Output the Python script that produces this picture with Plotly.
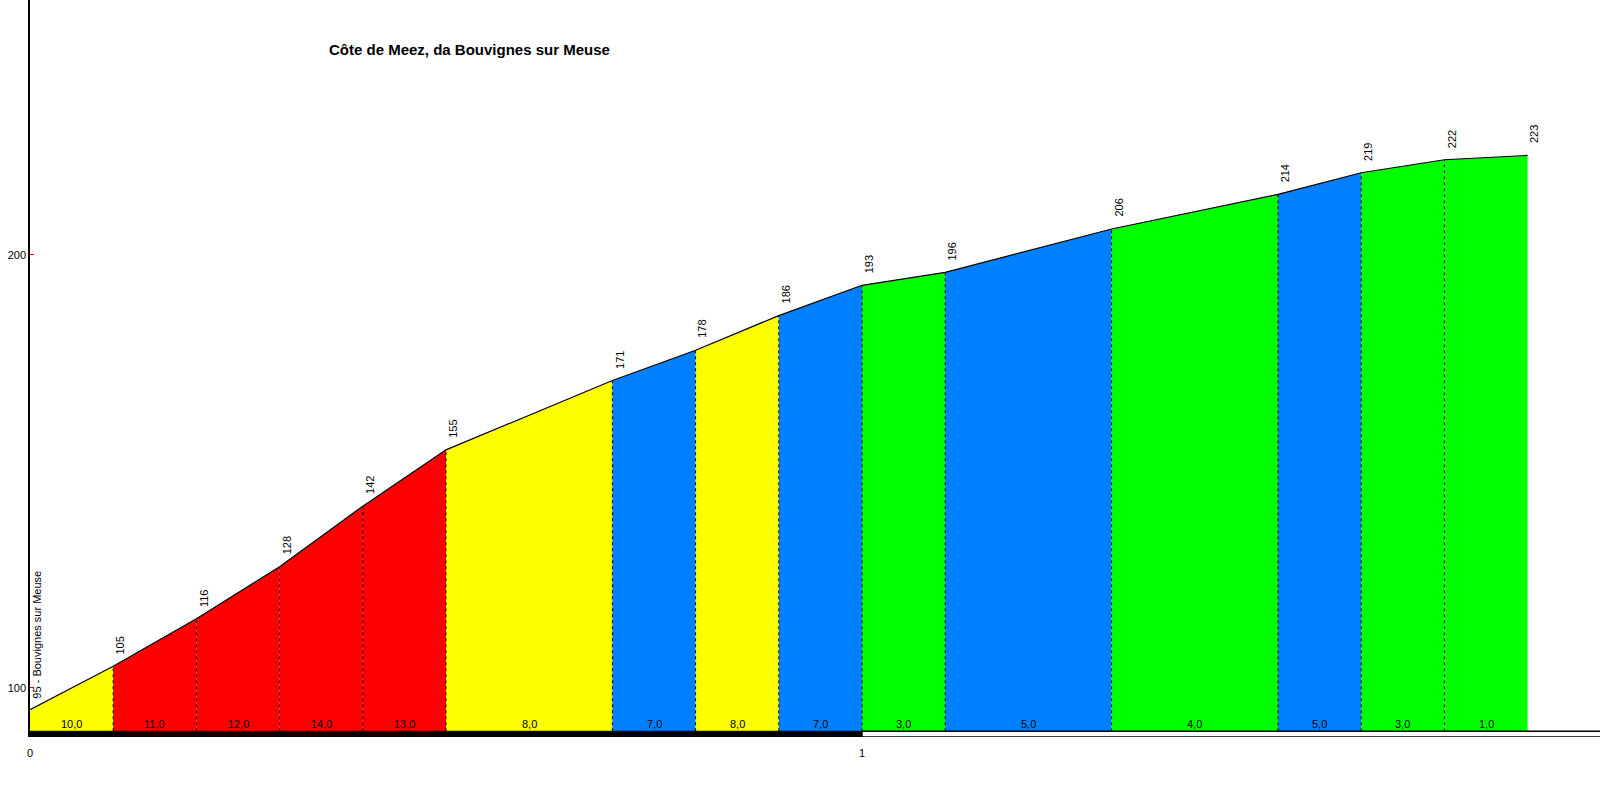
import plotly.graph_objects as go

# profile data: km, altitude (m), gradient (%) per segment
dist_km = [0, 0.1, 0.2, 0.3, 0.4, 0.5, 0.7, 0.8, 0.9, 1.0, 1.1, 1.3, 1.5, 1.6, 1.7, 1.8]
altitude = [95, 105, 116, 128, 142, 155, 171, 178, 186, 193, 196, 206, 214, 219, 222, 223]
gradient = [10, 11, 12, 14, 13, 8, 7, 8, 7, 3, 5, 4, 5, 3, 1]
start_name = "Bouvignes sur Meuse"
title = "Côte de Meez, da Bouvignes sur Meuse"

BASE = 90
FONT = "Liberation Sans, Arial, sans-serif"


def grad_color(g):
    if g >= 11:
        return "#FF0000"
    if g >= 8:
        return "#FFFF00"
    if g >= 5:
        return "#0080FF"
    return "#00FF00"


fig = go.Figure()

for i, g in enumerate(gradient):
    x0, x1 = dist_km[i], dist_km[i + 1]
    fig.add_trace(go.Scatter(
        x=[x0, x0, x1, x1, x0],
        y=[BASE, altitude[i], altitude[i + 1], BASE, BASE],
        fill="toself", fillcolor=grad_color(g),
        mode="lines", line=dict(width=0),
        hoverinfo="skip",
    ))
    fig.add_annotation(
        x=(x0 + x1) / 2, y=BASE, text=f"{g:.1f}".replace(".", ","),
        showarrow=False, yanchor="bottom", yshift=-1,
        font=dict(family=FONT, size=11, color="black"),
    )

# dashed dividers
for x, a in zip(dist_km[1:-1], altitude[1:-1]):
    fig.add_shape(type="line", x0=x, x1=x, y0=BASE, y1=a,
                  line=dict(color="black", width=1, dash="3px,3px"))

# profile outline
fig.add_trace(go.Scatter(
    x=dist_km, y=altitude, mode="lines",
    line=dict(color="black", width=1.2), hoverinfo="skip",
))

# altitude labels
for i, (x, a) in enumerate(zip(dist_km, altitude)):
    txt = f"{a} - {start_name}" if i == 0 else str(a)
    fig.add_annotation(
        x=x, y=a, text=txt, textangle=-90, showarrow=False,
        xanchor="center", yanchor="bottom",
        xshift=7, yshift=9 if i == 0 else 10,
        font=dict(family=FONT, size=11, color="black"),
    )

# km bar under the profile
fig.add_shape(type="rect", x0=0, x1=1, y0=88.68, y1=BASE,
              fillcolor="black", line=dict(color="black", width=1))
fig.add_shape(type="rect", x0=1, x1=1.9, y0=88.68, y1=BASE,
              fillcolor="white", line=dict(color="black", width=1.5))

fig.add_annotation(
    x=(469 - 30) / 1570, y=1 - 49 / 737, xref="paper", yref="paper",
    xanchor="center", yanchor="middle", text=f"<b>{title}</b>",
    showarrow=False, font=dict(family=FONT, size=15, color="black"),
)

fig.update_layout(
    width=1600, height=800,
    margin=dict(l=30, r=0, t=0, b=63),
    plot_bgcolor="white", paper_bgcolor="white",
    showlegend=False,
    xaxis=dict(
        range=[0, 1570 / 832], showgrid=False, zeroline=False, showline=False,
        tickvals=[0, 1], ticktext=["0", "1"], ticks="outside", ticklen=6,
        tickcolor="rgba(0,0,0,0)",
        tickfont=dict(family=FONT, size=11, color="black"),
    ),
    yaxis=dict(
        range=[88.68, 258.89], showgrid=False, zeroline=False,
        showline=True, linecolor="black", linewidth=1.5,
        tickvals=[100, 200], ticks="inside", ticklen=4, tickcolor="red",
        tickfont=dict(family=FONT, size=11, color="black"),
    ),
)

fig.write_html("out.html", config={"displayModeBar": False},
               post_script="document.body.style.margin='0';")
